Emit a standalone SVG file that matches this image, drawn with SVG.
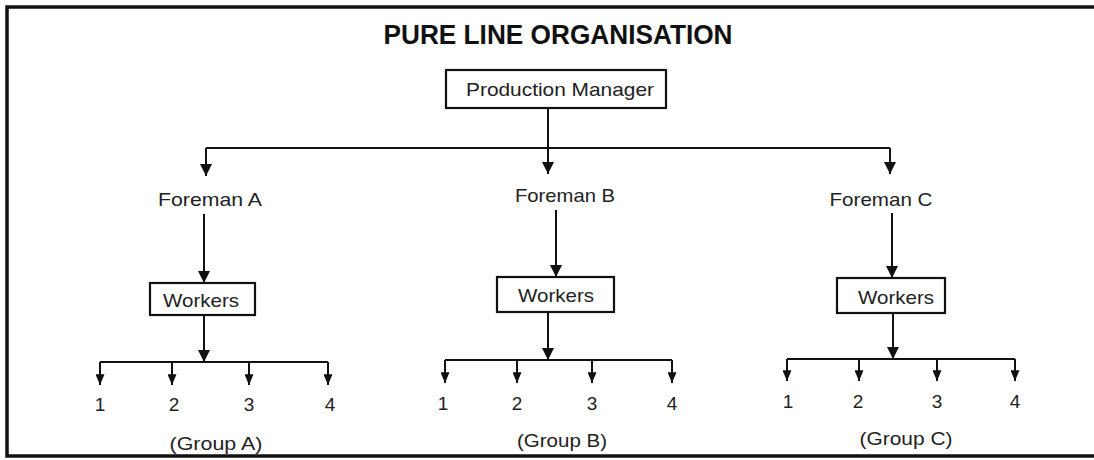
<svg xmlns="http://www.w3.org/2000/svg" width="1094" height="460" viewBox="0 0 1094 460">
<defs>
<marker id="ah" viewBox="0 0 12 12" refX="12" refY="6" markerWidth="12" markerHeight="12" markerUnits="userSpaceOnUse" orient="auto"><path d="M0,0 L12,6 L0,12 z" fill="#111"/></marker>
<marker id="as" viewBox="0 0 12 10" refX="12" refY="5" markerWidth="12" markerHeight="9" markerUnits="userSpaceOnUse" orient="auto"><path d="M0,0 L12,5 L0,10 z" fill="#111"/></marker>
</defs>
<style>
.t{font-family:"Liberation Sans",Arial,sans-serif;font-size:19px;fill:#222;text-anchor:middle}
.box{fill:#fff;stroke:#111;stroke-width:2.2}
.ln{fill:none;stroke:#111;stroke-width:2}
.arr{fill:none;stroke:#111;stroke-width:2;marker-end:url(#ah)}
.sa{fill:none;stroke:#111;stroke-width:2;marker-end:url(#as)}
</style>
<rect x="0" y="0" width="1094" height="460" fill="#fff"/>
<rect x="7" y="7" width="1110" height="449" fill="none" stroke="#111" stroke-width="3.5"/>
<text x="558" y="44" font-family="Liberation Sans,Arial,sans-serif" font-weight="bold" font-size="27" fill="#111" text-anchor="middle" textLength="349" lengthAdjust="spacingAndGlyphs">PURE LINE ORGANISATION</text>

<g id="connectors">
<path class="ln" d="M548,108 V148 M206,148 H890"/>
<path class="arr" d="M206,148 V176"/>
<path class="arr" d="M548,148 V174"/>
<path class="arr" d="M890,148 V174"/>
<path class="arr" d="M204,214 V283"/>
<path class="arr" d="M556,210 V277"/>
<path class="arr" d="M892,213 V278"/>
<path class="arr" d="M204,315 V362"/>
<path class="arr" d="M548,312 V360"/>
<path class="arr" d="M893,313 V359"/>
<path class="ln" d="M100,362 H328 M445,360 H672 M787,359 H1015"/>
<path class="sa" d="M100,362 V385"/>
<path class="sa" d="M172,362 V385"/>
<path class="sa" d="M249,362 V385"/>
<path class="sa" d="M328,362 V385"/>
<path class="sa" d="M445,360 V383"/>
<path class="sa" d="M517,360 V383"/>
<path class="sa" d="M592,360 V383"/>
<path class="sa" d="M672,360 V383"/>
<path class="sa" d="M787,359 V381"/>
<path class="sa" d="M859,359 V381"/>
<path class="sa" d="M937,359 V381"/>
<path class="sa" d="M1015,359 V381"/>
</g>

<g id="production-manager">
<rect class="box" x="446" y="70" width="220" height="38"/>
<text class="t" x="560" y="96" textLength="188" lengthAdjust="spacingAndGlyphs">Production Manager</text>
</g>

<g id="foreman-a"><text class="t" x="210" y="206" textLength="104" lengthAdjust="spacingAndGlyphs">Foreman A</text></g>
<g id="foreman-b"><text class="t" x="565" y="202" textLength="100" lengthAdjust="spacingAndGlyphs">Foreman B</text></g>
<g id="foreman-c"><text class="t" x="881" y="206" textLength="103" lengthAdjust="spacingAndGlyphs">Foreman C</text></g>

<g id="workers-a"><rect class="box" x="150" y="283" width="105" height="32"/><text class="t" x="201" y="307" textLength="76" lengthAdjust="spacingAndGlyphs">Workers</text></g>
<g id="workers-b"><rect class="box" x="497" y="277" width="117" height="35"/><text class="t" x="556" y="302" textLength="76" lengthAdjust="spacingAndGlyphs">Workers</text></g>
<g id="workers-c"><rect class="box" x="837" y="278" width="108" height="35"/><text class="t" x="896" y="304" textLength="76" lengthAdjust="spacingAndGlyphs">Workers</text></g>

<g id="group-a">
<text class="t" x="100" y="411">1</text><text class="t" x="174" y="411">2</text><text class="t" x="249" y="411">3</text><text class="t" x="330" y="411">4</text>
<text class="t" x="216" y="450" textLength="93" lengthAdjust="spacingAndGlyphs">(Group A)</text>
</g>
<g id="group-b">
<text class="t" x="443" y="410">1</text><text class="t" x="517" y="410">2</text><text class="t" x="592" y="410">3</text><text class="t" x="672" y="410">4</text>
<text class="t" x="562" y="447" textLength="90" lengthAdjust="spacingAndGlyphs">(Group B)</text>
</g>
<g id="group-c">
<text class="t" x="788" y="408">1</text><text class="t" x="858" y="408">2</text><text class="t" x="937" y="408">3</text><text class="t" x="1015" y="408">4</text>
<text class="t" x="906" y="445" textLength="93" lengthAdjust="spacingAndGlyphs">(Group C)</text>
</g>
</svg>
